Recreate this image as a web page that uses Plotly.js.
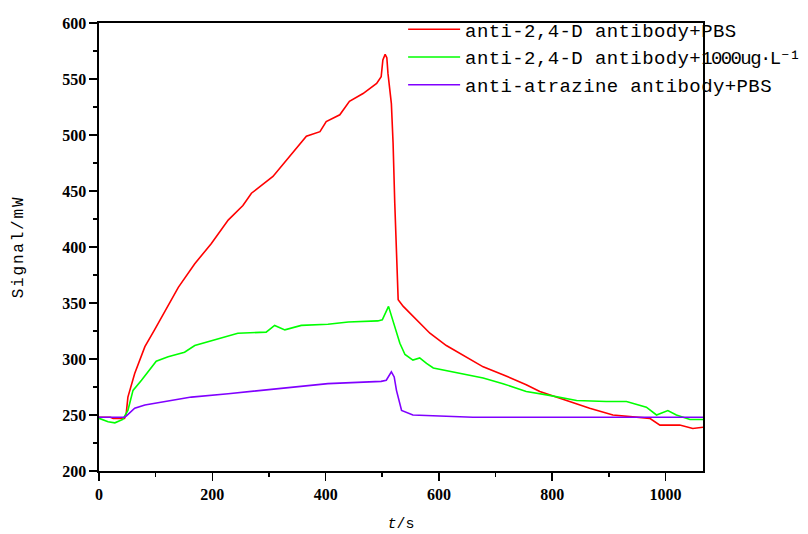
<!DOCTYPE html>
<html>
<head>
<meta charset="utf-8">
<script src="https://cdn.plot.ly/plotly-3.0.1.min.js"></script>
<style>
body{margin:0;padding:0;background:#fff;}
.legendtext{letter-spacing:0.4px;}
.ytitle{letter-spacing:1.8px;}
</style>
</head>
<body>
<div id="chart" style="width:808px;height:534px;"></div>
<script>
const seriesNames = [
  "anti-2,4-D antibody+PBS",
  "anti-2,4-D antibody+<span style=\"letter-spacing:-1.6px\">1000ug·L⁻¹</span>",
  "anti-atrazine antibody+PBS"
];

const redT = [0,20,25,45,48,51,63,81,98,122,140,169,198,228,254,269,307,366,390,401,425,442,466,490,498,501,505,508,510,516,519,522,528,537,560,584,613,648,678,713,754,778,807,831,866,907,954,972,990,1025,1048,1066];
const redY = [248,248,247,247,251,266,287,311,326,347,364,385,403,424,437,448,463,499,503,512,518,530,537,546,552,567,572,569,555,528,493,439,353,347,335,323,312,302,293,286,277,271,266,262,256,250,248,247,241,241,238,239];

const greenT = [0,16,28,42,51,60,75,101,122,151,169,204,245,295,310,328,357,404,440,492,500,511,522,531,540,554,566,578,590,637,678,713,754,790,813,843,895,931,966,984,1004,1019,1043,1066];
const greenY = [247,244,243,246,254,272,281,298,302,306,312,317,323,324,330,326,330,331,333,334,335,347,329,314,304,299,301,296,292,287,283,278,271,268,266,263,262,262,257,250,254,250,246,246];

const purpleT = [0,45,48,63,81,128,163,228,287,346,404,498,507,516,521,525,534,554,660,1066];
const purpleY = [248,248,249,256,259,263,266,269,272,275,278,280,281,288.5,284,272,254,250,248,248];

const colors = ["#ff0000", "#00ff00", "#8000ff"];

const traces = [
  {x: redT, y: redY, name: seriesNames[0]},
  {x: greenT, y: greenY, name: seriesNames[1]},
  {x: purpleT, y: purpleY, name: seriesNames[2]}
].map((t, i) => Object.assign(t, {type: "scatter", mode: "lines", line: {color: colors[i], width: 1.6}}));

const tickFont = {family: "Liberation Serif, Times New Roman, serif", size: 16, color: "#000", weight: 700};
const axisCommon = {
  showline: true, linecolor: "#000", linewidth: 1.6, mirror: true,
  ticks: "outside", ticklen: 8, tickwidth: 1.6, tickcolor: "#000",
  showgrid: false, zeroline: false, tickfont: tickFont
};

const layout = {
  width: 808, height: 534,
  margin: {l: 99, r: 105, t: 23, b: 63, autoexpand: false},
  paper_bgcolor: "#fff", plot_bgcolor: "#fff",
  showlegend: true,
  legend: {
    x: 0.5035, y: 1.028, xanchor: "left", yanchor: "top",
    bgcolor: "rgba(0,0,0,0)", borderwidth: 0,
    font: {family: "Liberation Mono, monospace", size: 19, color: "#000"},
    itemwidth: 52, tracegroupgap: 0
  },
  xaxis: Object.assign({}, axisCommon, {
    range: [0, 1066], tickmode: "linear", tick0: 0, dtick: 200,
    minor: {ticks: "outside", ticklen: 4, tickwidth: 1.6, tickcolor: "#000", dtick: 100},
    title: {text: "<i>t</i>/s", font: {family: "Liberation Mono, monospace", size: 15, color: "#000"}, standoff: 16}
  }),
  yaxis: Object.assign({}, axisCommon, {
    range: [200, 600], tickmode: "linear", tick0: 200, dtick: 50,
    minor: {ticks: "outside", ticklen: 4, tickwidth: 1.6, tickcolor: "#000", dtick: 25},
    title: {text: "Signal/mW", font: {family: "Liberation Mono, monospace", size: 16, color: "#000"}, standoff: 34}
  })
};

Plotly.newPlot("chart", traces, layout, {displayModeBar: false, staticPlot: true});
</script>
</body>
</html>
